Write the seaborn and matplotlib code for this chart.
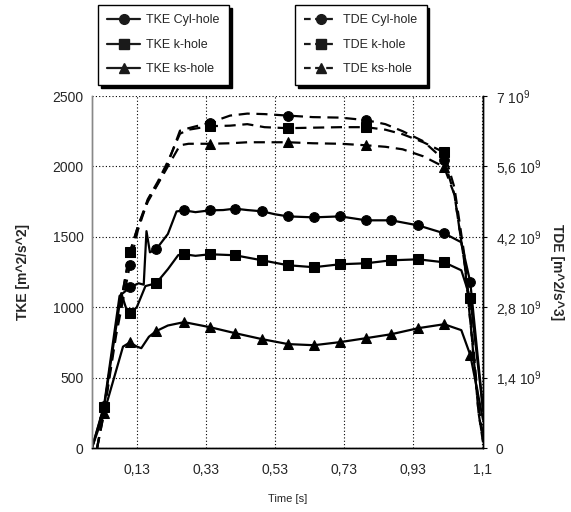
import numpy as np
import pandas as pd
import matplotlib
matplotlib.use("Agg")
import matplotlib.pyplot as plt
from matplotlib.lines import Line2D
import seaborn as sns

# ---- data ----
# TKE [m^2/s^2], left axis
t_tke = [0.0, 0.035, 0.08, 0.11, 0.135, 0.15, 0.158, 0.168, 0.186, 0.22, 0.245,
         0.267, 0.30, 0.342, 0.38, 0.414, 0.45, 0.493, 0.53, 0.568, 0.643, 0.719,
         0.76, 0.794, 0.867, 0.945, 1.02, 1.07, 1.096, 1.133]
tke_cyl = [0, 300, 1080, 1140, 1170, 1160, 1540, 1390, 1411, 1520, 1680,
           1688, 1675, 1688, 1690, 1700, 1690, 1681, 1660, 1645, 1638, 1645,
           1630, 1617, 1617, 1581, 1525, 1461, 1177, 270]

t_tke_k = [0.0, 0.035, 0.085, 0.098, 0.11, 0.13, 0.155, 0.186, 0.22, 0.25, 0.267,
           0.30, 0.342, 0.414, 0.493, 0.568, 0.643, 0.719, 0.794, 0.867, 0.945,
           1.02, 1.07, 1.096, 1.133]
tke_k = [0, 290, 1100, 1000, 957, 1000, 1150, 1170, 1270, 1370, 1376,
         1365, 1376, 1369, 1333, 1298, 1284, 1305, 1312, 1333, 1340,
         1319, 1262, 1064, 270]

t_tke_ks = [0.0, 0.035, 0.09, 0.11, 0.13, 0.143, 0.165, 0.186, 0.22, 0.267,
            0.342, 0.414, 0.493, 0.568, 0.643, 0.719, 0.794, 0.867, 0.945,
            1.02, 1.07, 1.096, 1.133]
tke_ks = [0, 250, 720, 750, 720, 709, 790, 830, 870, 894,
          858, 816, 773, 738, 730, 752, 780, 808, 851,
          879, 837, 660, 200]

tke_marks = [0.035, 0.11, 0.186, 0.267, 0.342, 0.414, 0.493, 0.568, 0.643,
             0.719, 0.794, 0.867, 0.945, 1.02, 1.096]

# TDE [m^2/s^3] in units of 1e9, right axis
t_tde = [0.015, 0.035, 0.07, 0.11, 0.133, 0.162, 0.191, 0.22, 0.255, 0.28, 0.342,
         0.40, 0.45, 0.50, 0.568, 0.64, 0.72, 0.794, 0.85, 0.90, 0.96, 1.02,
         1.05, 1.08, 1.10, 1.12, 1.133]
tde_cyl = [0, 0.70, 2.24, 3.64, 4.33, 4.93, 5.26, 5.66, 6.31, 6.36, 6.47,
           6.61, 6.65, 6.64, 6.61, 6.58, 6.57, 6.52, 6.44, 6.30, 6.10, 5.73,
           5.04, 3.64, 2.24, 0.70, 0.14]
tde_k = [0, 0.78, 2.38, 3.89, 4.40, 4.95, 5.30, 5.70, 6.25, 6.33, 6.40,
         6.41, 6.44, 6.38, 6.36, 6.37, 6.38, 6.38, 6.33, 6.24, 6.08, 5.88,
         5.18, 3.78, 2.38, 0.84, 0.22]
tde_ks = [0, 0.70, 2.38, 3.89, 4.40, 4.90, 5.25, 5.60, 6.02, 6.05, 6.05,
          6.06, 6.08, 6.08, 6.08, 6.06, 6.05, 6.02, 5.99, 5.94, 5.80, 5.59,
          5.04, 3.64, 2.24, 0.70, 0.11]
tde_marks = [0.11, 0.342, 0.568, 0.794, 1.02]

x_ticks = [0.13, 0.33, 0.53, 0.73, 0.93, 1.13]
x_labels = ["0,13", "0,33", "0,53", "0,73", "0,93", "1,1"]
tke_ticks = [0, 500, 1000, 1500, 2000, 2500]
tde_ticks = [0, 1.4, 2.8, 4.2, 5.6, 7.0]
tde_labels = ["0", "1,4 10$^9$", "2,8 10$^9$", "4,2 10$^9$", "5,6 10$^9$", "7 10$^9$"]

sns.set_theme(style="white")
plt.rcParams["font.family"] = ["Liberation Sans", "DejaVu Sans"]
plt.rcParams["mathtext.fontset"] = "custom"
plt.rcParams["mathtext.rm"] = "Liberation Sans"

fig = plt.figure(figsize=(5.71, 5.12), dpi=100)
ax = fig.add_axes([0.161, 0.125, 0.685, 0.6875])
ax2 = ax.twinx()

DASH = (0, (5, 3))


def draw(axis, t, v, marks, marker, dashed):
    df = pd.DataFrame({"t": t, "v": v})
    idx = [i for i, tt in enumerate(t) if any(abs(tt - m) < 1e-9 for m in marks)]
    sns.lineplot(data=df, x="t", y="v", ax=axis, sort=False, estimator=None,
                 color="black", lw=1.6, linestyle=DASH if dashed else "-",
                 marker=marker, markersize=7 if marker != "^" else 6.5,
                 markevery=idx, markeredgecolor="black", markerfacecolor="black")


draw(ax, t_tke, tke_cyl, tke_marks, "o", False)
draw(ax, t_tke_k, tke_k, tke_marks, "s", False)
draw(ax, t_tke_ks, tke_ks, tke_marks, "^", False)
draw(ax2, t_tde, tde_cyl, tde_marks, "o", True)
draw(ax2, t_tde, tde_k, tde_marks, "s", True)
draw(ax2, t_tde, tde_ks, tde_marks, "^", True)

ax.set_xlim(0, 1.133)
ax.set_ylim(0, 2500)
ax2.set_ylim(0, 7.0)
ax.set_xticks(x_ticks)
ax.set_xticklabels(x_labels, fontsize=10)
ax.set_yticks(tke_ticks)
ax.set_yticklabels([str(v) for v in tke_ticks], fontsize=10)
ax2.set_yticks(tde_ticks)
ax2.set_yticklabels(tde_labels, fontsize=10)

ax.grid(True, color="black", linestyle=(0, (1, 2)), lw=0.8)
ax.set_axisbelow(True)
ax.tick_params(axis="x", direction="out", length=3, width=0.8, color="black", pad=8)
ax.tick_params(axis="y", length=0, pad=6)
ax2.tick_params(axis="y", direction="out", length=3, width=0.8, color="black", pad=6)

for a in (ax, ax2):
    a.spines["top"].set_visible(False)
    a.spines["bottom"].set_color("black")
    a.spines["right"].set_color("black")
    a.spines["left"].set_color("#888888")
    for s in a.spines.values():
        s.set_linewidth(1.0)

ax.set_xlabel("Time [s]", fontsize=8, labelpad=12)
ax.set_ylabel("TKE [m^2/s^2]", fontsize=10, fontweight="bold", labelpad=16)
ax2.set_ylabel("TDE [m^2/s^3]", fontsize=10, fontweight="bold", rotation=270, labelpad=16)

tke_handles = [Line2D([], [], color="k", lw=1.6, marker=m, markersize=7)
               for m in ["o", "s", "^"]]
tde_handles = [Line2D([], [], color="k", lw=1.6, linestyle=(0, (3, 2)), marker=m, markersize=7)
               for m in ["o", "s", "^"]]
leg_kw = dict(loc="upper left", fontsize=9, frameon=True, fancybox=False,
              edgecolor="black", framealpha=1, handlelength=2.6, handletextpad=0.5,
              labelspacing=1.0, borderpad=0.75, borderaxespad=0,
              shadow={"color": "black", "alpha": 1})
l1 = fig.legend(tke_handles, ["TKE Cyl-hole", "TKE k-hole", "TKE ks-hole"],
                bbox_to_anchor=(98 / 571, 1 - 5 / 512), **leg_kw)
l2 = fig.legend(tde_handles, ["TDE Cyl-hole", "TDE k-hole", "TDE ks-hole"],
                bbox_to_anchor=(295 / 571, 1 - 5 / 512), **leg_kw)

fig.savefig("out.png", dpi=100)
